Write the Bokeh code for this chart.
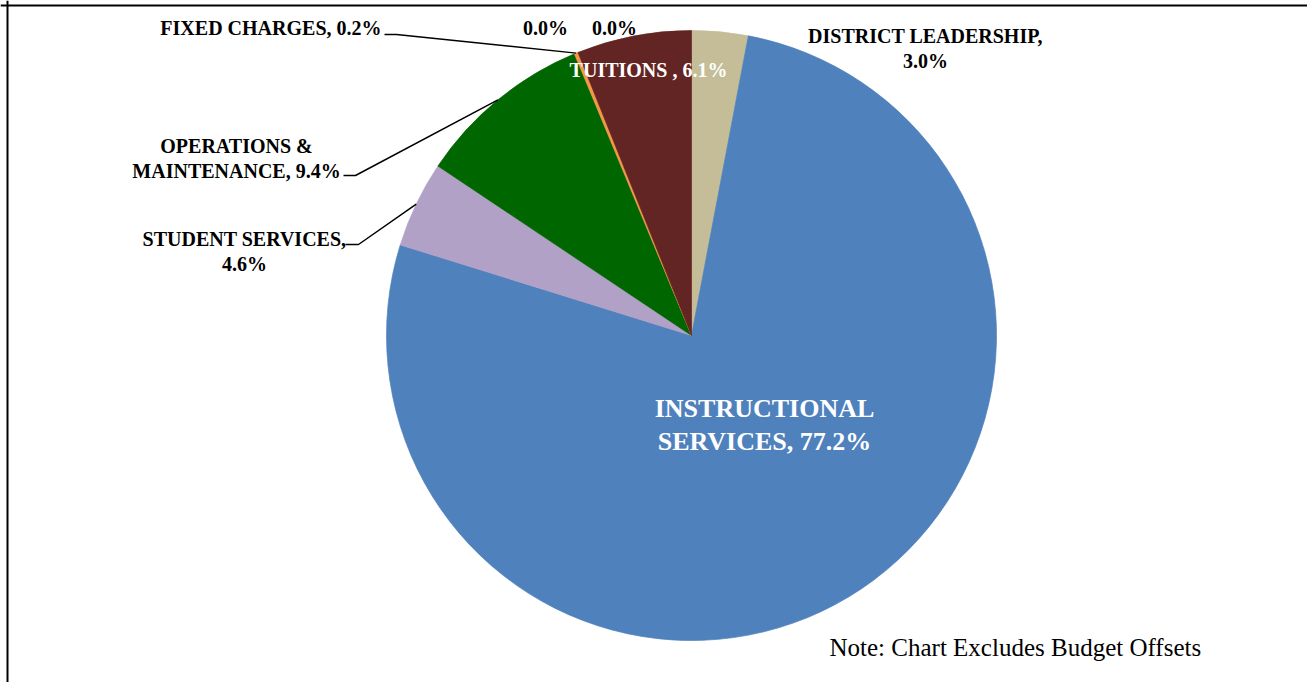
import math
from bokeh.plotting import figure
from bokeh.models import Range1d, Span, ColumnDataSource
from bokeh.core.properties import value
from bokeh.embed import file_html
from bokeh.resources import INLINE

# ---- data (clockwise from 12 o'clock) ----
categories = ["DISTRICT LEADERSHIP", "INSTRUCTIONAL SERVICES", "STUDENT SERVICES",
              "OPERATIONS & MAINTENANCE", "FIXED CHARGES", "OTHER A", "OTHER B", "TUITIONS"]
shares = [3.0, 77.2, 4.6, 9.4, 0.2, 0.0, 0.0, 6.1]
colors = ["#C4BD97", "#4F81BD", "#B2A1C7", "#006600", "#F79646", "#9BBB59", "#8064A2", "#632523"]

W, H = 1307, 682

def px(x):
    return x

def py(y):
    return H - y

p = figure(width=W, height=H, output_backend="svg", toolbar_location=None,
           x_range=Range1d(0, W), y_range=Range1d(0, H), min_border=0)
p.axis.visible = False
p.grid.visible = False
p.outline_line_color = None
p.background_fill_color = "white"

cx, cy, R = px(691), py(335), 305

total = sum(shares)
starts, ends, mids = [], [], []
cum = 0.0
for s in shares:
    a0 = math.pi / 2 - 2 * math.pi * cum / total
    cum += s
    a1 = math.pi / 2 - 2 * math.pi * cum / total
    starts.append(a1)
    ends.append(a0)
    mids.append((a0 + a1) / 2)

keep = [i for i, s in enumerate(shares) if s > 0]
src = ColumnDataSource(dict(start=[starts[i] for i in keep], end=[ends[i] for i in keep],
                            color=[colors[i] for i in keep], cat=[categories[i] for i in keep]))
p.wedge(x=cx, y=cy, radius=R, start_angle="start", end_angle="end",
        fill_color="color", line_color="color", line_width=0.7, source=src)

FONT = value("Liberation Serif")

def label(x, y, txt, color="black", size="20px", align="center", bold=True):
    p.text(x=[px(x)], y=[py(y)], text=[txt], text_color=color, text_font=FONT,
           text_font_size=size, text_font_style="bold" if bold else "normal",
           text_align=align, text_baseline="middle")

def fmt(v):
    return f"{v:.1f}%"

# leader lines ending on the slice arcs
def leader(i, x0, x1, y):
    ex = cx + R * math.cos(mids[i])
    ey = cy + R * math.sin(mids[i])
    p.line(x=[px(x0), px(x1), ex], y=[py(y), py(y), ey], line_color="black", line_width=1.5)

leader(4, 384, 396, 34)
leader(3, 343, 355, 175)
leader(2, 345, 358, 244)

label(381, 27, f"FIXED CHARGES, {fmt(shares[4])}", align="right")
label(545, 27, fmt(shares[5]))
label(614, 27, fmt(shares[6]))
label(648, 69, f"TUITIONS , {fmt(shares[7])}", color="white")
label(925, 35, "DISTRICT LEADERSHIP,")
label(925, 60, fmt(shares[0]))
label(236, 145, "OPERATIONS &")
label(236, 170, f"MAINTENANCE, {fmt(shares[3])}")
label(244, 238, "STUDENT SERVICES,")
label(244, 263, fmt(shares[2]))
label(764, 408, "INSTRUCTIONAL", color="white", size="26px")
label(764, 441, f"SERVICES, {fmt(shares[1])}", color="white", size="26px")
label(829, 647, "Note: Chart  Excludes Budget Offsets", size="25px", align="left", bold=False)

# chart border (left and top edges visible in the crop)
p.add_layout(Span(location=px(7), dimension="height", line_color="black", line_width=2))
p.add_layout(Span(location=py(5), dimension="width", line_color="black", line_width=2))

open("out.html", "w").write(file_html(p, INLINE))
